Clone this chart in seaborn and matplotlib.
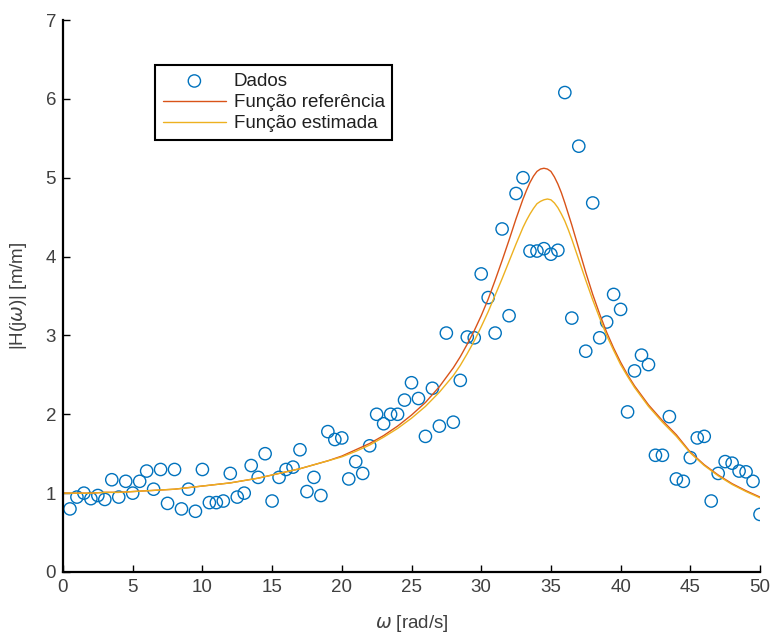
import numpy as np
import pandas as pd
import matplotlib
matplotlib.use("Agg")
import matplotlib.pyplot as plt
import seaborn as sns

# ---- data ----
omega_data = [0.5, 1, 1.5, 2, 2.5, 3, 3.5, 4, 4.5, 5, 5.5, 6, 6.5, 7, 7.5, 8, 8.5, 9, 9.5, 10,
              10.5, 11, 11.5, 12, 12.5, 13, 13.5, 14, 14.5, 15, 15.5, 16, 16.5, 17, 17.5, 18, 18.5, 19, 19.5, 20,
              20.5, 21, 21.5, 22, 22.5, 23, 23.5, 24, 24.5, 25, 25.5, 26, 26.5, 27, 27.5, 28, 28.5, 29, 29.5, 30,
              30.5, 31, 31.5, 32, 32.5, 33, 33.5, 34, 34.5, 35, 35.5, 36, 36.5, 37, 37.5, 38, 38.5, 39, 39.5, 40,
              40.5, 41, 41.5, 42, 42.5, 43, 43.5, 44, 44.5, 45, 45.5, 46, 46.5, 47, 47.5, 48, 48.5, 49, 49.5, 50]
h_data = [0.80, 0.95, 1.00, 0.93, 0.97, 0.92, 1.17, 0.95, 1.15, 1.00, 1.15, 1.28, 1.05, 1.30, 0.87, 1.30, 0.80, 1.05, 0.77, 1.30,
          0.88, 0.88, 0.90, 1.25, 0.95, 1.00, 1.35, 1.20, 1.50, 0.90, 1.20, 1.30, 1.33, 1.55, 1.02, 1.20, 0.97, 1.78, 1.68, 1.70,
          1.18, 1.40, 1.25, 1.60, 2.00, 1.88, 2.00, 2.00, 2.18, 2.40, 2.20, 1.72, 2.33, 1.85, 3.03, 1.90, 2.43, 2.98, 2.97, 3.78,
          3.48, 3.03, 4.35, 3.25, 4.80, 5.00, 4.07, 4.07, 4.10, 4.03, 4.08, 6.08, 3.22, 5.40, 2.80, 4.68, 2.97, 3.17, 3.52, 3.33,
          2.03, 2.55, 2.75, 2.63, 1.48, 1.48, 1.97, 1.18, 1.15, 1.45, 1.70, 1.72, 0.90, 1.25, 1.40, 1.38, 1.28, 1.27, 1.15, 0.73]

omega_line = [0, 1, 2, 3, 4, 5, 6, 7, 8, 9, 10, 11, 12, 13, 14, 15, 16, 17, 18, 19, 20, 21, 22, 23, 24, 25, 26, 27, 28,
              28.5, 29, 29.5, 30, 30.5, 31, 31.5, 32, 32.5,
              33, 33.25, 33.5, 33.75, 34, 34.25, 34.5, 34.75, 35, 35.25, 35.5, 35.75, 36, 36.25, 36.5,
              37, 37.5, 38, 38.5, 39, 39.5, 40, 40.5, 41, 41.5, 42, 43, 44, 45, 46, 47, 48, 49, 50]
h_ref = [1.00, 1.00, 1.00, 1.01, 1.01, 1.02, 1.03, 1.04, 1.05, 1.07, 1.09, 1.11, 1.13, 1.16, 1.19, 1.23, 1.27, 1.31, 1.36, 1.41,
         1.47, 1.55, 1.63, 1.73, 1.85, 1.99, 2.15, 2.35, 2.59,
         2.73, 2.89, 3.06, 3.25, 3.46, 3.70, 3.95, 4.21, 4.48,
         4.73, 4.84, 4.94, 5.02, 5.08, 5.11, 5.12, 5.11, 5.08, 5.01, 4.92, 4.81, 4.68, 4.54, 4.40,
         4.10, 3.80, 3.52, 3.27, 3.04, 2.84, 2.66, 2.50, 2.36, 2.24, 2.12, 1.92, 1.74, 1.52, 1.36, 1.23, 1.12, 1.03, 0.95]
h_est = [1.00, 1.00, 1.00, 1.01, 1.01, 1.02, 1.03, 1.04, 1.05, 1.07, 1.09, 1.11, 1.13, 1.16, 1.19, 1.23, 1.27, 1.31, 1.36, 1.41,
         1.46, 1.53, 1.61, 1.71, 1.82, 1.95, 2.10, 2.28, 2.49,
         2.62, 2.77, 2.93, 3.11, 3.30, 3.51, 3.72, 3.94, 4.16,
         4.37, 4.46, 4.54, 4.61, 4.67, 4.70, 4.72, 4.73, 4.72, 4.68, 4.62, 4.54, 4.45, 4.34, 4.22,
         3.96, 3.70, 3.45, 3.22, 3.00, 2.81, 2.63, 2.48, 2.34, 2.22, 2.10, 1.90, 1.72, 1.51, 1.35, 1.22, 1.11, 1.02, 0.94]

x_ticks = [0, 5, 10, 15, 20, 25, 30, 35, 40, 45, 50]
y_ticks = [0, 1, 2, 3, 4, 5, 6, 7]

# ---- style ----
sns.set_style("ticks")
plt.rcParams['font.family'] = ['Liberation Sans', 'DejaVu Sans']
TXT = "#404040"
FS = 13.5

fig = plt.figure(figsize=(7.73, 6.36), dpi=100)
ax = fig.add_axes([63 / 773, (636 - 572) / 636, (760 - 63) / 773, (572 - 20) / 636])

df_data = pd.DataFrame({"omega": omega_data, "H": h_data})
df_line = pd.DataFrame({"omega": omega_line, "ref": h_ref, "est": h_est})

sns.scatterplot(data=df_data, x="omega", y="H", ax=ax, marker="o", s=78,
                facecolors="none", edgecolor="#0072BD", linewidth=1.0, label="Dados")
sns.lineplot(data=df_line, x="omega", y="ref", ax=ax, color="#D95319", linewidth=1.0,
             label="Função referência")
sns.lineplot(data=df_line, x="omega", y="est", ax=ax, color="#EDB120", linewidth=1.0,
             label="Função estimada")

ax.set_xlim(0, 50)
ax.set_ylim(0, 7)
ax.set_xticks(x_ticks)
ax.set_yticks(y_ticks)
ax.tick_params(direction="in", length=5, width=1.0, labelsize=FS, labelcolor=TXT,
               color="black", pad=5)
for s in ["top", "right"]:
    ax.spines[s].set_visible(False)
for s in ["left", "bottom"]:
    ax.spines[s].set_linewidth(1.6)
    ax.spines[s].set_color("black")

ax.set_xlabel(r"$\omega$ [rad/s]", fontsize=FS, color=TXT, labelpad=12)
ax.set_ylabel(r"|H(j$\omega$)| [m/m]", fontsize=FS, color=TXT, labelpad=12)

leg = ax.legend(loc="upper left", bbox_to_anchor=(0.132, 0.918), fontsize=FS,
                frameon=True, fancybox=False, edgecolor="black", framealpha=1,
                handlelength=3.4, borderpad=0.4, labelspacing=0.22, handletextpad=0.4,
                borderaxespad=0)
leg.get_frame().set_linewidth(1.5)
for t in leg.get_texts():
    t.set_color("#202020")

fig.savefig("out.png", dpi=100)
